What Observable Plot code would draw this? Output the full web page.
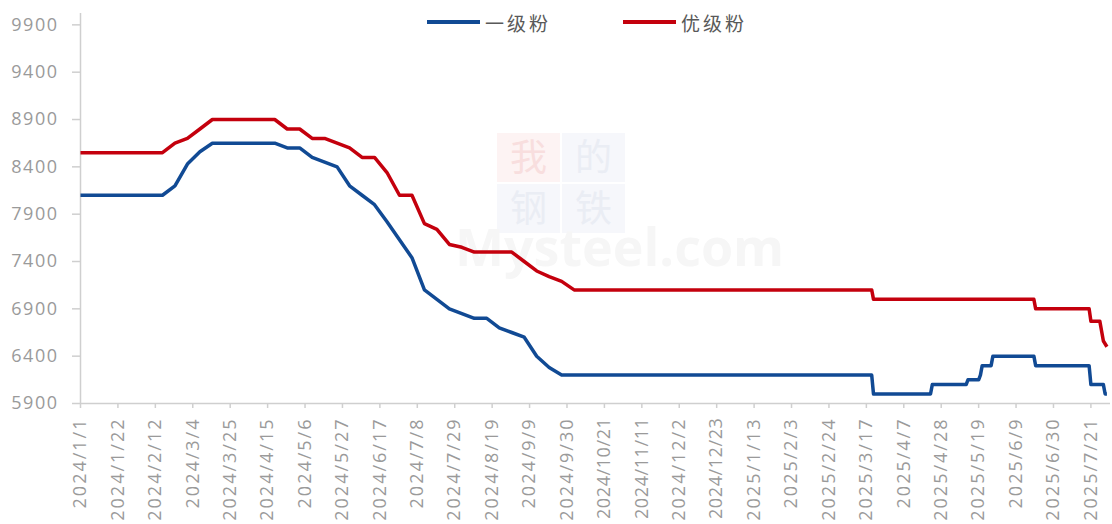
<!DOCTYPE html>
<html>
<head>
<meta charset="utf-8">
<script src="https://cdn.jsdelivr.net/npm/d3@7"></script>
<script src="https://cdn.jsdelivr.net/npm/@observablehq/plot@0.6"></script>
<style>
  html, body { margin: 0; padding: 0; background: #fff; }
  #wrap { position: relative; width: 1112px; height: 524px; overflow: hidden; }
  #chart svg { position: relative; z-index: 1; }
  #chart g[aria-label="x-axis tick label"] text { letter-spacing: 2px; }
  #chart g[aria-label="x-axis tick label"] text.long { letter-spacing: 0.6px; }
  #chart g[aria-label="y-axis tick label"] text { letter-spacing: 1.5px; }
  .legend { position: absolute; top: 10px; left: 0; height: 24px; z-index: 2;
            font-family: "Noto Sans CJK SC", sans-serif; font-size: 19px; color: #595959; letter-spacing: 3px; }
  .legend .item { position: absolute; top: 0; display: flex; align-items: center; height: 24px; white-space: nowrap; }
  .legend .sw { width: 53px; height: 4px; margin-right: 5px; }
  .wm { position: absolute; z-index: 0; }
  .wm .cell { position: absolute; width: 63px; height: 49px; }
  .wm .cell span { position: absolute; left: 0; right: 0; top: 4px; text-align: center;
              font-family: "Noto Sans CJK SC", sans-serif; font-size: 37px; line-height: 37px; }
  .wm .brand { position: absolute; left: 0; top: 0; font-family: "Open Sans", sans-serif; font-weight: 700; font-size: 52px;
               line-height: 34px; height: 34px; color: #f6f6f6; white-space: nowrap; }
</style>
</head>
<body>
<div id="wrap">
  <div class="wm" style="left:497px; top:133px;">
    <div class="cell" style="left:0; top:0; background:#fdf3f3; color:#f8dede;"><span>我</span></div>
    <div class="cell" style="left:65px; top:0; background:#f6f7fb; color:#eaedf4;"><span>的</span></div>
    <div class="cell" style="left:0; top:51px; background:#f6f7fb; color:#eaedf4;"><span>钢</span></div>
    <div class="cell" style="left:65px; top:51px; background:#f6f7fb; color:#eaedf4;"><span>铁</span></div>
  </div>
  <div class="wm" style="left:455px; top:229px;"><div class="brand">Mysteel.com</div></div>
  <div id="chart"></div>
  <div class="legend" id="legend"></div>
</div>
<script>
// ---- data ----
const seriesNames = ["一级粉", "优级粉"];
const seriesColors = ["#114a94", "#c4000d"];

const firstGradeDates = [
  "2024-01-01","2024-02-16","2024-02-23","2024-03-01","2024-03-08","2024-03-15","2024-04-19","2024-04-26",
  "2024-05-03","2024-05-10","2024-05-17","2024-05-24","2024-05-31","2024-06-07","2024-06-14","2024-06-21",
  "2024-06-28","2024-07-05","2024-07-12","2024-07-19","2024-07-26","2024-08-02","2024-08-09","2024-08-16",
  "2024-08-23","2024-08-30","2024-09-06","2024-09-13","2024-09-20","2024-09-27","2025-03-20","2025-03-21",
  "2025-04-22","2025-04-23","2025-05-12","2025-05-13","2025-05-19","2025-05-20","2025-05-21","2025-05-26",
  "2025-05-27","2025-06-19","2025-06-20","2025-07-20","2025-07-21","2025-07-28","2025-07-29","2025-07-30"
];
const firstGradeValues = [
  8100, 8100, 8200, 8430, 8560, 8650, 8650, 8600,
  8600, 8500, 8450, 8400, 8200, 8100, 8000, 7820,
  7630, 7440, 7100, 7000, 6900, 6850, 6800, 6800,
  6700, 6650, 6600, 6400, 6280, 6200, 6200, 6000,
  6000, 6100, 6100, 6150, 6150, 6200, 6300, 6300,
  6400, 6400, 6300, 6300, 6100, 6100, 6000, 6000
];

const premiumDates = [
  "2024-01-01","2024-02-16","2024-02-23","2024-03-01","2024-03-08","2024-03-15","2024-04-19","2024-04-26",
  "2024-05-03","2024-05-10","2024-05-17","2024-05-24","2024-05-31","2024-06-07","2024-06-14","2024-06-21",
  "2024-06-28","2024-07-05","2024-07-12","2024-07-19","2024-07-26","2024-08-02","2024-08-09","2024-08-16",
  "2024-08-23","2024-08-30","2024-09-06","2024-09-13","2024-09-20","2024-09-27","2024-10-04","2025-03-20",
  "2025-03-21","2025-06-19","2025-06-20","2025-07-20","2025-07-21","2025-07-26","2025-07-28","2025-07-30"
];
const premiumValues = [
  8550, 8550, 8650, 8700, 8800, 8900, 8900, 8800,
  8800, 8700, 8700, 8650, 8600, 8500, 8500, 8340,
  8100, 8100, 7800, 7740, 7580, 7550, 7500, 7500,
  7500, 7500, 7400, 7300, 7240, 7190, 7100, 7100,
  7000, 7000, 6900, 6900, 6770, 6770, 6560, 6500
];

const xTickLabels = [
  "2024/1/1","2024/1/22","2024/2/12","2024/3/4","2024/3/25","2024/4/15","2024/5/6","2024/5/27",
  "2024/6/17","2024/7/8","2024/7/29","2024/8/19","2024/9/9","2024/9/30","2024/10/21","2024/11/11",
  "2024/12/2","2024/12/23","2025/1/13","2025/2/3","2025/2/24","2025/3/17","2025/4/7","2025/4/28",
  "2025/5/19","2025/6/9","2025/6/30","2025/7/21"
];
const yTicks = [5900, 6400, 6900, 7400, 7900, 8400, 8900, 9400, 9900];

// ---- build ----
const parseLabel = s => { const [y, m, d] = s.split("/").map(Number); return new Date(Date.UTC(y, m - 1, d)); };
const fmt = d => `${d.getUTCFullYear()}/${d.getUTCMonth() + 1}/${d.getUTCDate()}`;
const xTicks = xTickLabels.map(parseLabel);

const rows = [
  ...firstGradeDates.map((d, i) => ({date: new Date(d), value: firstGradeValues[i], series: seriesNames[0]})),
  ...premiumDates.map((d, i) => ({date: new Date(d), value: premiumValues[i], series: seriesNames[1]}))
];

const chart = Plot.plot({
  width: 1112,
  height: 524,
  marginLeft: 80,
  marginRight: 2,
  marginTop: 13,
  marginBottom: 121,
  style: {fontFamily: "'Open Sans', sans-serif", fontSize: "18px", background: "transparent", overflow: "visible"},
  x: {type: "utc", domain: [new Date("2024-01-01"), new Date("2025-08-01")]},
  y: {domain: [5900, 10020]},
  color: {domain: seriesNames, range: seriesColors},
  marks: [
    Plot.axisY({ticks: yTicks, tickFormat: d => String(d), tickSize: 8, tickPadding: 14, stroke: "#cfcfcf", strokeWidth: 1.5, fill: "#9a9a9a", label: null}),
    Plot.axisX({ticks: xTicks, tickFormat: fmt, tickRotate: -90, tickSize: 5, tickPadding: 9, stroke: "#cfcfcf", strokeWidth: 1.5, fill: "#9a9a9a", label: null}),
    Plot.ruleX([new Date("2024-01-01")], {stroke: "#cfcfcf", strokeWidth: 1.5}),
    Plot.ruleY([5900], {stroke: "#cfcfcf", strokeWidth: 1.5}),
    Plot.line(rows, {x: "date", y: "value", z: "series", stroke: "series", strokeWidth: 3.5, strokeLinejoin: "round", strokeLinecap: "butt"})
  ]
});
// tighten the three longest date labels so they fit in the frame
chart.querySelectorAll('g[aria-label="x-axis tick label"] text').forEach(t => {
  if (t.textContent.length >= 10) t.classList.add("long");
});
document.getElementById("chart").appendChild(chart);

// legend (HTML, overlaid at the top)
const legend = document.getElementById("legend");
const legendLeft = [427, 623];
seriesNames.forEach((name, i) => {
  const item = document.createElement("div");
  item.className = "item";
  item.style.left = legendLeft[i] + "px";
  const sw = document.createElement("span");
  sw.className = "sw";
  sw.style.background = seriesColors[i];
  const t = document.createElement("span");
  t.textContent = name;
  item.appendChild(sw);
  item.appendChild(t);
  legend.appendChild(item);
});
</script>
</body>
</html>
